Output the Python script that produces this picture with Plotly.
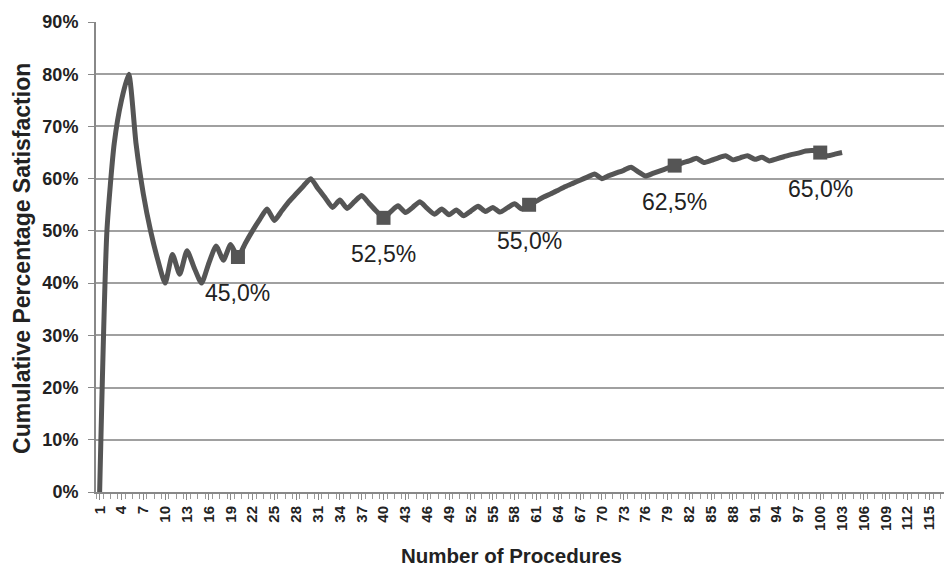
import plotly.graph_objects as go

procedures = list(range(1, 104))
satisfaction = [
    0, 50, 66.7, 75, 80, 66.7, 57.1, 50, 44.4, 40,
    45.5, 41.7, 46.2, 42.9, 40, 43.8, 47.1, 44.4, 47.4, 45,
    47.6, 50, 52.2, 54.2, 52, 53.8, 55.6, 57.1, 58.6, 60,
    58.1, 56.3, 54.5, 55.9, 54.3, 55.6, 56.8, 55.3, 53.8, 52.5,
    53.7, 54.8, 53.5, 54.5, 55.6, 54.3, 53.2, 54.2, 53.1, 54,
    52.9, 53.8, 54.7, 53.7, 54.5, 53.6, 54.4, 55.2, 54.2, 55,
    55.7, 56.5, 57.1, 57.8, 58.5, 59.1, 59.7, 60.3, 60.9, 60,
    60.6, 61.1, 61.6, 62.2, 61.3, 60.5, 61, 61.5, 62, 62.5,
    63, 63.4, 63.9, 63.1, 63.5, 64, 64.4, 63.6, 64, 64.4,
    63.7, 64.1, 63.4, 63.8, 64.2, 64.6, 64.9, 65.3, 65.4, 65,
    64.4, 64.7, 65,
]
marker_x = [20, 40, 60, 80, 100]
marker_y = [45.0, 52.5, 55.0, 62.5, 65.0]
marker_labels = ["45,0%", "52,5%", "55,0%", "62,5%", "65,0%"]
x_tick_values = list(range(1, 121, 3))
y_tick_values = list(range(0, 91, 10))

LINE = "#555555"
GRID = "#a0a0a0"
FONT = "Liberation Sans, Arial, sans-serif"

fig = go.Figure()
fig.add_trace(go.Scatter(
    x=procedures, y=satisfaction, mode="lines",
    line=dict(color=LINE, width=5, shape="spline", smoothing=0.55),
    hoverinfo="skip", showlegend=False,
))
fig.add_trace(go.Scatter(
    x=marker_x, y=marker_y, mode="markers",
    marker=dict(symbol="square", size=14, color=LINE),
    hoverinfo="skip", showlegend=False,
))
for mx, my, lab in zip(marker_x, marker_y, marker_labels):
    fig.add_annotation(x=mx, y=my, text=lab, showarrow=False, yshift=-36,
                       font=dict(family=FONT, size=23, color="#222222"))

fig.add_annotation(text="<b>Number of Procedures</b>", xref="paper", yref="paper",
                   x=0.485, y=-0.136, xanchor="center", yanchor="middle", showarrow=False,
                   font=dict(family=FONT, size=20.5, color="#222222"))
fig.add_annotation(text="<b>Cumulative Percentage Satisfaction</b>", xref="paper", yref="paper",
                   x=-0.0865, y=0.498, xanchor="center", yanchor="middle",
                   textangle=-90, showarrow=False,
                   font=dict(family=FONT, size=23, color="#222222"))

# page body has an 8px default margin, so the figure is sized to fit the window
fig.update_layout(
    width=944, height=561,
    margin=dict(l=88, r=0, t=14, b=77, autoexpand=False),
    paper_bgcolor="white", plot_bgcolor="white",
    font=dict(family=FONT, color="#222222"),
)
fig.update_xaxes(
    range=[0.5, 118.1], tickmode="array", tickvals=x_tick_values,
    ticktext=[f"<b>{v}</b>" for v in x_tick_values],
    tickangle=-90, tickfont=dict(size=15, family=FONT, color="#222222"),
    showgrid=False, zeroline=False, automargin=False,
    showline=True, linecolor="#888888", linewidth=2,
    ticks="outside", ticklen=6, tickcolor="#888888", tickwidth=1,
    minor=dict(dtick=1, tick0=0.5, ticks="outside", ticklen=5, tickcolor="#999999", tickwidth=1, showgrid=False),
)
fig.update_yaxes(
    range=[0, 90], tickmode="array", tickvals=y_tick_values,
    ticktext=[f"<b>{v}%</b>" for v in y_tick_values],
    tickfont=dict(size=18, family=FONT, color="#222222"),
    showgrid=True, gridcolor=GRID, gridwidth=2, zeroline=False, automargin=False,
    showline=True, linecolor="#888888", linewidth=2,
    ticks="outside", ticklen=6, tickcolor="#888888", tickwidth=1,
    ticklabelstandoff=6,
)

fig.write_html("out.html")
